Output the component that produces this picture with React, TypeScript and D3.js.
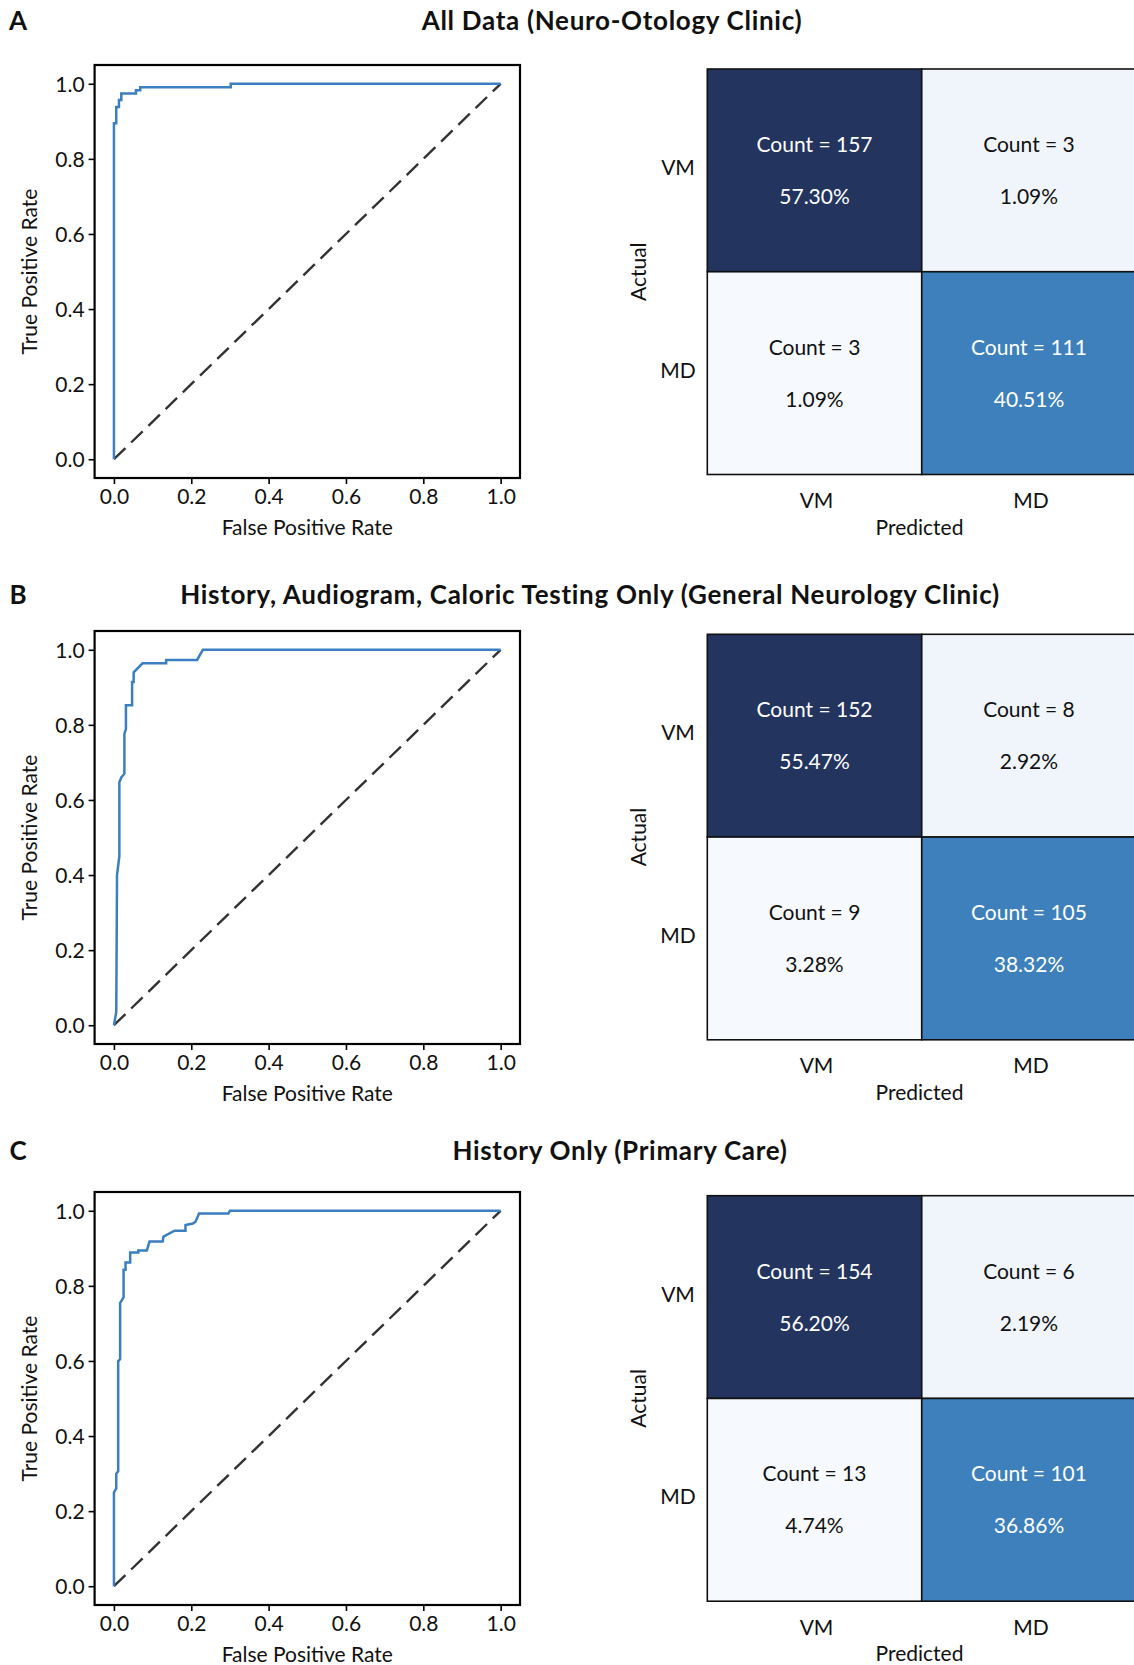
import React, { useRef, useEffect } from 'react';
import * as d3 from 'd3';

const W = 1134;
const H = 1665;
const FONT = 'Lato, "Open Sans", sans-serif';

// panel texts
const panelLetters = ['A', 'B', 'C'];
const panelTitles = [
  'All Data (Neuro-Otology Clinic)',
  'History, Audiogram, Caloric Testing Only (General Neurology Clinic)',
  'History Only (Primary Care)',
];
const classLabels = ['VM', 'MD'];
const axisTicks = [0, 0.2, 0.4, 0.6, 0.8, 1.0];

// ROC curves
const rocAFpr = [0, 0, 0.006, 0.006, 0.013, 0.013, 0.019, 0.019, 0.057, 0.057, 0.068, 0.068, 0.302, 0.302, 1.0];
const rocATpr = [0, 0.895, 0.895, 0.938, 0.938, 0.957, 0.957, 0.974, 0.974, 0.983, 0.983, 0.991, 0.991, 1.0, 1.0];

const rocBFpr = [0, 0.006, 0.008, 0.014, 0.014, 0.019, 0.027, 0.027, 0.031, 0.031, 0.047, 0.047, 0.051, 0.051, 0.074, 0.135, 0.135, 0.215, 0.23, 1.0];
const rocBTpr = [0, 0.035, 0.4, 0.45, 0.647, 0.66, 0.67, 0.776, 0.789, 0.852, 0.852, 0.914, 0.914, 0.94, 0.964, 0.964, 0.973, 0.973, 1.0, 1.0];

const rocCFpr = [0, 0, 0.006, 0.006, 0.011, 0.011, 0.016, 0.016, 0.025, 0.025, 0.03, 0.03, 0.042, 0.042, 0.063, 0.063, 0.085, 0.092, 0.126, 0.128, 0.157, 0.185, 0.185, 0.204, 0.211, 0.22, 0.296, 0.3, 1.0];
const rocCTpr = [0, 0.25, 0.26, 0.3, 0.306, 0.599, 0.605, 0.754, 0.77, 0.843, 0.843, 0.862, 0.862, 0.889, 0.889, 0.894, 0.894, 0.918, 0.918, 0.931, 0.947, 0.947, 0.962, 0.966, 0.971, 0.993, 0.993, 1.0, 1.0];

// confusion matrices, row = actual, col = predicted (VM, MD)
const countsA = [157, 3, 3, 111];
const countsB = [152, 8, 9, 105];
const countsC = [154, 6, 13, 101];

const cellColors = ['#23345f', '#f0f5fc', '#f6f9fd', '#3d80bc'];
const cellTextColors = ['#ffffff', '#111111', '#111111', '#ffffff'];

const rocFprs = [rocAFpr, rocBFpr, rocCFpr];
const rocTprs = [rocATpr, rocBTpr, rocCTpr];
const allCounts = [countsA, countsB, countsC];

// layout (pixels)
const axTops = [65, 631, 1192];
const cmTops = [69, 634.3, 1195.7];
const titleY = [20, 594, 1150];
const titleX = [612, 590, 620];
const AX_LEFT = 94.6;
const AX_RIGHT = 520;
const AX_H = 413;
const CM_LEFT = 707.3;
const CM_CELL_W = 214.45;
const CM_CELL_H = 202.75;

const RocPanel = ({ idx }: { idx: number }) => {
  const xRef = useRef<SVGGElement>(null);
  const yRef = useRef<SVGGElement>(null);
  const top = axTops[idx];
  const bottom = top + AX_H;
  const x = d3.scaleLinear().domain([-0.05, 1.05]).range([AX_LEFT, AX_RIGHT]);
  const y = d3.scaleLinear().domain([-0.05, 1.05]).range([bottom, top]);
  const fpr = rocFprs[idx];
  const tpr = rocTprs[idx];
  const pts = fpr.map((f, i) => [f, tpr[i]] as [number, number]);
  const rocLine = d3.line<[number, number]>().x(d => x(d[0])).y(d => y(d[1]));

  useEffect(() => {
    const fmt = d3.format('.1f');
    const xa = d3.axisBottom(x).tickValues(axisTicks).tickFormat(d => fmt(d as number)).tickSize(6).tickPadding(4);
    const ya = d3.axisLeft(y).tickValues(axisTicks).tickFormat(d => fmt(d as number)).tickSize(6).tickPadding(4);
    const gx = d3.select(xRef.current).call(xa as any);
    const gy = d3.select(yRef.current).call(ya as any);
    [gx, gy].forEach(g => {
      g.select('.domain').remove();
      g.selectAll('line').attr('stroke', '#000').attr('stroke-width', 1.6);
      g.selectAll('text').attr('font-family', FONT).attr('font-size', 21).attr('fill', '#111');
    });
    gx.selectAll('text').attr('dy', '0.78em');
    gy.selectAll('text').attr('dy', '0.35em');
  }, [idx]);

  return (
    <g>
      <g ref={xRef} transform={`translate(0,${bottom})`} />
      <g ref={yRef} transform={`translate(${AX_LEFT},0)`} />
      <line x1={x(0)} y1={y(0)} x2={x(1)} y2={y(1)} stroke="#333" strokeWidth={2.4} strokeDasharray="16,8" />
      <path d={rocLine(pts) || ''} fill="none" stroke="#3b7fc0" strokeWidth={2.5} />
      <rect x={AX_LEFT} y={top} width={AX_RIGHT - AX_LEFT} height={AX_H} fill="none" stroke="#000" strokeWidth={2.2} />
      <text x={(AX_LEFT + AX_RIGHT) / 2} y={bottom + 48} textAnchor="middle" dominantBaseline="central"
        fontFamily={FONT} fontSize={21} fill="#111">False Positive Rate</text>
      <text transform={`translate(28.6,${(top + bottom) / 2}) rotate(-90)`} textAnchor="middle" dominantBaseline="central"
        fontFamily={FONT} fontSize={21} fill="#111">True Positive Rate</text>
    </g>
  );
};

const MatrixPanel = ({ idx }: { idx: number }) => {
  const counts = allCounts[idx];
  const total = d3.sum(counts);
  const top = cmTops[idx];
  const xb = d3.scaleBand().domain(classLabels).range([CM_LEFT, CM_LEFT + 2 * CM_CELL_W]);
  const yb = d3.scaleBand().domain(classLabels).range([top, top + 2 * CM_CELL_H]);
  const bottom = top + 2 * CM_CELL_H;
  const cells = counts.map((c, i) => ({
    c,
    row: classLabels[Math.floor(i / 2)],
    col: classLabels[i % 2],
    fill: cellColors[i],
    color: cellTextColors[i],
  }));
  return (
    <g>
      {cells.map((d, i) => {
        const cx = (xb(d.col) as number) + xb.bandwidth() / 2;
        const cy = (yb(d.row) as number) + yb.bandwidth() / 2;
        return (
          <g key={i}>
            <rect x={xb(d.col)} y={yb(d.row)} width={xb.bandwidth()} height={yb.bandwidth()}
              fill={d.fill} stroke="#111" strokeWidth={1.6} />
            <text x={cx} y={cy - 27} textAnchor="middle" dominantBaseline="central"
              fontFamily={FONT} fontSize={21} fill={d.color}>{`Count = ${d.c}`}</text>
            <text x={cx} y={cy + 25} textAnchor="middle" dominantBaseline="central"
              fontFamily={FONT} fontSize={21} fill={d.color}>{`${((d.c / total) * 100).toFixed(2)}%`}</text>
          </g>
        );
      })}
      {classLabels.map(l => (
        <text key={'r' + l} x={678} y={(yb(l) as number) + yb.bandwidth() / 2 - 4} textAnchor="middle"
          dominantBaseline="central" fontFamily={FONT} fontSize={21} fill="#111">{l}</text>
      ))}
      {classLabels.map(l => (
        <text key={'c' + l} x={(xb(l) as number) + xb.bandwidth() / 2 + 2} y={bottom + 25} textAnchor="middle"
          dominantBaseline="central" fontFamily={FONT} fontSize={21} fill="#111">{l}</text>
      ))}
      <text transform={`translate(637.5,${(top + bottom) / 2}) rotate(-90)`} textAnchor="middle"
        dominantBaseline="central" fontFamily={FONT} fontSize={21} fill="#111">Actual</text>
      <text x={919.5} y={bottom + 51.5} textAnchor="middle" dominantBaseline="central"
        fontFamily={FONT} fontSize={21} fill="#111">Predicted</text>
    </g>
  );
};

export default function App() {
  return (
    <svg width={W} height={H} style={{ position: 'absolute', left: 0, top: 0, background: '#fff' }}>
      <rect width={W} height={H} fill="#fff" />
      {panelLetters.map((p, i) => (
        <g key={p}>
          <text x={18} y={titleY[i]} textAnchor="middle" dominantBaseline="central"
            fontFamily={FONT} fontWeight="bold" fontSize={26} fill="#111">{p}</text>
          <text x={titleX[i]} y={titleY[i]} textAnchor="middle" dominantBaseline="central"
            fontFamily={FONT} fontWeight="bold" fontSize={26} letterSpacing={0.7} fill="#111">{panelTitles[i]}</text>
          <RocPanel idx={i} />
          <MatrixPanel idx={i} />
        </g>
      ))}
    </svg>
  );
}
